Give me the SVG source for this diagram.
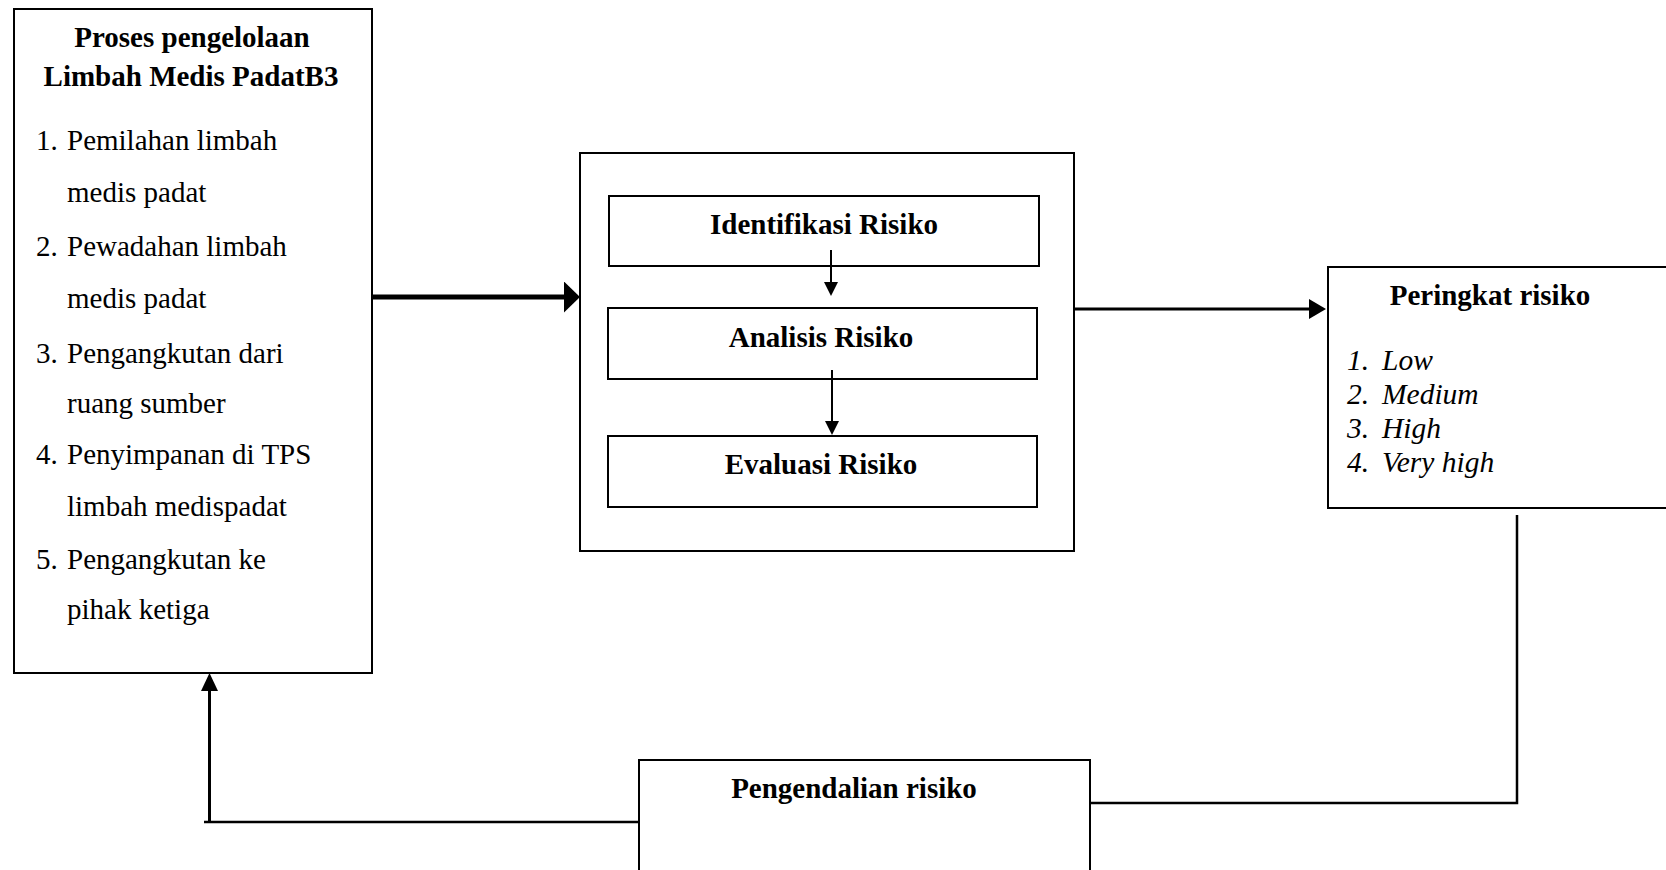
<svg xmlns="http://www.w3.org/2000/svg" width="1666" height="870" viewBox="0 0 1666 870">
<style>
.box{fill:#fff;stroke:#000;stroke-width:2}
.t{font-family:"Liberation Serif","Times New Roman",serif;font-size:29px;fill:#000}
.b{font-weight:bold}
.i{font-style:italic;font-size:29.5px}
.ln{fill:none;stroke:#000}
</style>
<defs>
<marker id="big" markerUnits="userSpaceOnUse" markerWidth="16" markerHeight="31" refX="0" refY="15.5" orient="auto"><path d="M0,0 L16,15.5 L0,31 z" fill="#000"/></marker>
<marker id="med" markerUnits="userSpaceOnUse" markerWidth="17" markerHeight="20" refX="0" refY="10" orient="auto"><path d="M0,0 L17,10 L0,20 z" fill="#000"/></marker>
<marker id="sm" markerUnits="userSpaceOnUse" markerWidth="14" markerHeight="14" refX="0" refY="7" orient="auto"><path d="M0,0 L14,7 L0,14 z" fill="#000"/></marker>
<marker id="up" markerUnits="userSpaceOnUse" markerWidth="18" markerHeight="17" refX="0" refY="8.5" orient="auto"><path d="M0,0 L18,8.5 L0,17 z" fill="#000"/></marker>
</defs>

<g id="node-proses">
<rect class="box" x="14" y="9" width="358" height="664"/>
<text class="t b" x="192" y="47" text-anchor="middle">Proses pengelolaan</text>
<text class="t b" x="191" y="86" text-anchor="middle">Limbah Medis PadatB3</text>
<text class="t"><tspan x="36" y="150">1.</tspan><tspan x="67" y="150">Pemilahan limbah</tspan></text>
<text class="t" x="67" y="202">medis padat</text>
<text class="t"><tspan x="36" y="256">2.</tspan><tspan x="67" y="256">Pewadahan limbah</tspan></text>
<text class="t" x="67" y="308">medis padat</text>
<text class="t"><tspan x="36" y="363">3.</tspan><tspan x="67" y="363">Pengangkutan dari</tspan></text>
<text class="t" x="67" y="413">ruang sumber</text>
<text class="t"><tspan x="36" y="464">4.</tspan><tspan x="67" y="464">Penyimpanan di TPS</tspan></text>
<text class="t" x="67" y="516">limbah medispadat</text>
<text class="t"><tspan x="36" y="569">5.</tspan><tspan x="67" y="569">Pengangkutan ke</tspan></text>
<text class="t" x="67" y="619">pihak ketiga</text>
</g>

<g id="node-manajemen">
<rect class="box" x="580" y="153" width="494" height="398" stroke-width="1.8"/>
</g>
<g id="node-identifikasi">
<rect class="box" x="609" y="196" width="430" height="70"/>
<text class="t b" x="824" y="234" text-anchor="middle">Identifikasi Risiko</text>
</g>
<g id="node-analisis">
<rect class="box" x="608" y="308" width="429" height="71"/>
<text class="t b" x="821" y="347" text-anchor="middle">Analisis Risiko</text>
</g>
<g id="node-evaluasi">
<rect class="box" x="608" y="436" width="429" height="71"/>
<text class="t b" x="821" y="474" text-anchor="middle">Evaluasi Risiko</text>
</g>

<g id="node-peringkat">
<rect class="box" x="1328" y="267" width="345" height="241"/>
<text class="t b" x="1490" y="305" text-anchor="middle">Peringkat risiko</text>
<text class="t i"><tspan x="1347" y="370">1.</tspan><tspan x="1382" y="370">Low</tspan></text>
<text class="t i"><tspan x="1347" y="404">2.</tspan><tspan x="1382" y="404">Medium</tspan></text>
<text class="t i"><tspan x="1347" y="438">3.</tspan><tspan x="1382" y="438">High</tspan></text>
<text class="t i"><tspan x="1347" y="472">4.</tspan><tspan x="1382" y="472">Very high</tspan></text>
</g>

<g id="node-pengendalian">
<rect class="box" x="639" y="760" width="451" height="130"/>
<text class="t b" x="854" y="798" text-anchor="middle">Pengendalian risiko</text>
</g>

<g id="connectors">
<line class="ln" x1="372" y1="297" x2="564" y2="297" stroke-width="5" marker-end="url(#big)"/>
<line class="ln" x1="1075" y1="309" x2="1309" y2="309" stroke-width="3" marker-end="url(#med)"/>
<line class="ln" x1="831" y1="250" x2="831" y2="282" stroke-width="2" marker-end="url(#sm)"/>
<line class="ln" x1="832" y1="370" x2="832" y2="421" stroke-width="2" marker-end="url(#sm)"/>
<polyline class="ln" points="1517,515 1517,803 1090,803" stroke-width="2.5"/>
<line class="ln" x1="204" y1="822" x2="638" y2="822" stroke-width="2.5"/>
<line class="ln" x1="209.5" y1="822" x2="209.5" y2="691" stroke-width="3" marker-end="url(#up)"/>
</g>
</svg>
